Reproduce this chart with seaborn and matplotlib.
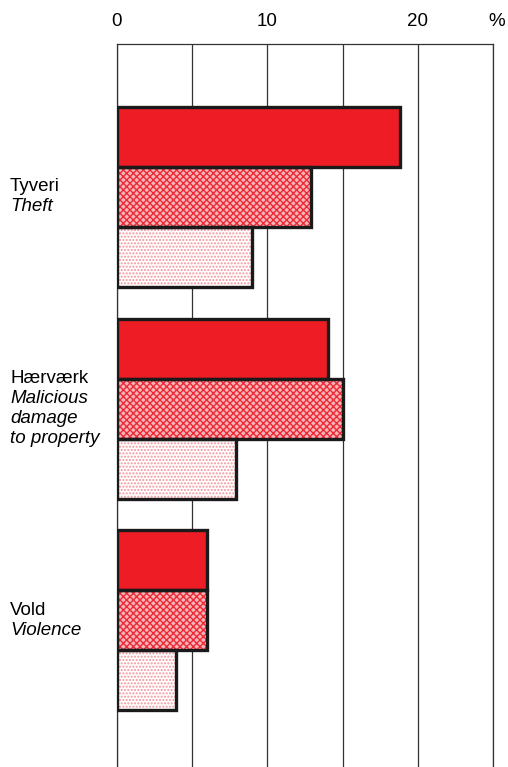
import pandas as pd
import seaborn as sns
import matplotlib.pyplot as plt

# data (percent)
groups = ['Tyveri', 'Hærværk', 'Vold']
group_en = [['Theft'], ['Malicious', 'damage', 'to property'], ['Violence']]
series = ['s1', 's2', 's3']
vals_s1 = [18.8, 14.0, 6.0]
vals_s2 = [12.9, 15.0, 6.0]
vals_s3 = [9.0, 7.9, 3.9]
xticks = [0, 10, 20]

df = pd.DataFrame({
    'group': groups * 3,
    'series': [series[0]] * 3 + [series[1]] * 3 + [series[2]] * 3,
    'value': vals_s1 + vals_s2 + vals_s3,
})

sns.set_style('white')
plt.rcParams['font.family'] = ['Liberation Sans', 'DejaVu Sans']
plt.rcParams['text.color'] = 'black'
plt.rcParams['xtick.color'] = 'black'
plt.rcParams['hatch.linewidth'] = 1.0

fig = plt.figure(figsize=(5.08, 7.67), dpi=100)
ax = fig.add_axes([117 / 508, 0, 376 / 508, 1 - 44 / 767])

faces = ['#ee1c25', '#f8b4b8', '#ffffff']
hatch_cols = ['#ee1c25', '#ec2a36', '#f3949a']
hatches = ['', 'xxxxx', '.....']

# filled bars with red hatching
sns.barplot(data=df, y='group', x='value', hue='series', order=groups,
            hue_order=series, width=0.85, orient='h', ax=ax, legend=False,
            palette=faces, linewidth=0, saturation=1, zorder=3)
n = len(groups)
for k, p in enumerate(ax.patches[:n * 3]):
    s = k // n
    p.set_facecolor(faces[s])
    p.set_edgecolor(hatch_cols[s])
    p.set_hatch(hatches[s])
    p.set_linewidth(0)

# thick black outlines on top
sns.barplot(data=df, y='group', x='value', hue='series', order=groups,
            hue_order=series, width=0.85, orient='h', ax=ax, legend=False,
            fill=False, edgecolor='#1a1a1a', linewidth=2.4, zorder=4)

ax.set_xlim(0, 25)
ax.set_ylim(2.693, -0.722)
ax.xaxis.tick_top()
ax.set_xticks(xticks)
ax.set_xticks([5, 15, 25], minor=True)
ax.grid(True, which='both', axis='x', color='#333333', linewidth=0.9)
ax.set_axisbelow(True)
ax.tick_params(axis='x', which='both', length=0, pad=10, labelsize=13.5)
ax.set_xticklabels([str(t) for t in xticks])
ax.set_yticks([])
ax.set_xlabel('')
ax.set_ylabel('')
for side in ['top', 'left', 'right']:
    ax.spines[side].set_visible(True)
    ax.spines[side].set_color('#333333')
    ax.spines[side].set_linewidth(0.9)
ax.spines['bottom'].set_visible(False)

ax.annotate('%', xy=(1.01, 1.0), xycoords='axes fraction', xytext=(0, 10),
            textcoords='offset points', ha='center', va='bottom', fontsize=13.5)

# two-language category labels
lh = 14.2
for i, g in enumerate(groups):
    lines = [(g, 'normal')] + [(t, 'italic') for t in group_en[i]]
    top = (len(lines) - 1) / 2 * lh
    for j, (txt, st) in enumerate(lines):
        ax.annotate(txt, xy=(-107 / 376, i), xycoords=('axes fraction', 'data'),
                    xytext=(0, top - j * lh), textcoords='offset points',
                    ha='left', va='center', fontsize=13.5, style=st)

fig.savefig('out.png', dpi=100)
